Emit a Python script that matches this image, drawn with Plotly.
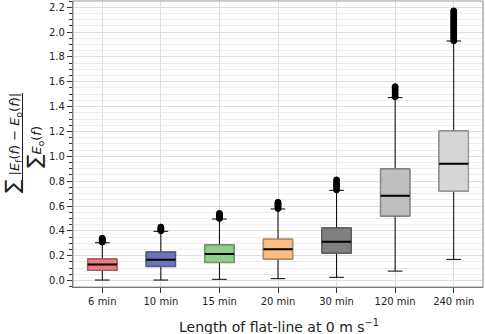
import plotly.graph_objects as go

categories = ["6 min", "10 min", "15 min", "20 min", "30 min", "120 min", "240 min"]
lower_whisker = [0.004, 0.004, 0.010, 0.015, 0.026, 0.076, 0.170]
q1_values = [0.082, 0.114, 0.146, 0.173, 0.221, 0.519, 0.721]
median_values = [0.130, 0.168, 0.213, 0.251, 0.312, 0.683, 0.940]
q3_values = [0.173, 0.229, 0.286, 0.332, 0.423, 0.898, 1.204]
upper_whisker = [0.304, 0.396, 0.495, 0.576, 0.726, 1.472, 1.928]

outliers = {
    "6 min": [0.31, 0.32, 0.33, 0.34],
    "10 min": [0.40, 0.41, 0.42, 0.43],
    "15 min": [0.50, 0.51, 0.52, 0.53, 0.54],
    "20 min": [0.58, 0.59, 0.60, 0.61, 0.62, 0.63],
    "30 min": [0.73, 0.75, 0.77, 0.79, 0.81],
    "120 min": [1.48, 1.50, 1.52, 1.54, 1.56],
    "240 min": [1.93, 1.95, 1.97, 1.99, 2.01, 2.03, 2.05, 2.07, 2.09,
                2.11, 2.13, 2.15, 2.17],
}

fill_colors = ["#f07d7d", "#6d72be", "#91cd8b", "#fcbd82", "#808080", "#bebebe", "#d6d6d6"]
edge_colors = ["#a86060", "#54578a", "#6c966a", "#b48c66", "#606060", "#8a8a8a", "#9a9a9a"]

fig = go.Figure()

# whiskers / caps (black)
fig.add_trace(go.Box(
    x=categories, q1=q1_values, median=median_values, q3=q3_values,
    lowerfence=lower_whisker, upperfence=upper_whisker,
    width=0.5, whiskerwidth=0.5, fillcolor="white",
    line=dict(color="black", width=1), showlegend=False, hoverinfo="skip",
))

# coloured boxes
for i, c in enumerate(categories):
    fig.add_trace(go.Box(
        x=[c], q1=[q1_values[i]], median=[median_values[i]], q3=[q3_values[i]],
        lowerfence=[q1_values[i]], upperfence=[q3_values[i]],
        width=0.5, whiskerwidth=0, fillcolor=fill_colors[i],
        line=dict(color=edge_colors[i], width=1.5), showlegend=False, hoverinfo="skip",
    ))

# median lines
fig.add_trace(go.Box(
    x=categories, q1=median_values, median=median_values, q3=median_values,
    lowerfence=median_values, upperfence=median_values,
    width=0.5, whiskerwidth=0, fillcolor="rgba(0,0,0,0)",
    line=dict(color="black", width=2), showlegend=False, hoverinfo="skip",
))

# outliers
for c in categories:
    vals = outliers[c]
    fig.add_trace(go.Scatter(
        x=[c] * len(vals), y=vals, mode="markers",
        marker=dict(color="black", size=6, line=dict(color="black", width=1)),
        showlegend=False, hoverinfo="skip",
    ))

L, R, T, B = 73, 2, 1, 47
W, H = 485, 334
pw, ph = W - L - R, H - T - B

def px_x(px):
    return (px - L) / pw

def px_y(py):
    return (H - B - py) / ph

fig.update_layout(
    width=W, height=H,
    margin=dict(l=L, r=R, t=T, b=B),
    plot_bgcolor="white", paper_bgcolor="white",
    font=dict(family="DejaVu Sans", size=10, color="#222"),
    boxmode="overlay",
    xaxis=dict(
        type="category", range=[-0.5, 6.5],
        showgrid=True, gridcolor="#dedede", gridwidth=1,
        ticks="outside", ticklen=5, tickwidth=1, tickcolor="#333",
        showline=True, linecolor="#555", linewidth=1.2,
        tickfont=dict(size=10, color="#222"), zeroline=False,
    ),
    yaxis=dict(
        range=[-0.052, 2.25], tickmode="array",
        tickvals=[0.0, 0.2, 0.4, 0.6, 0.8, 1.0, 1.2, 1.4, 1.6, 1.8, 2.0, 2.2],
        ticktext=["0.0", "0.2", "0.4", "0.6", "0.8", "1.0", "1.2", "1.4", "1.6", "1.8", "2.0", "2.2"],
        showgrid=True, gridcolor="#dedede", gridwidth=1,
        ticks="outside", ticklen=5, tickwidth=1, tickcolor="#333",
        showline=True, linecolor="#555", linewidth=1.2,
        tickfont=dict(size=10, color="#222"), zeroline=False,
        minor=dict(dtick=0.05, tick0=0, showgrid=True, gridcolor="#ececec",
                   ticks="outside", ticklen=3, tickcolor="#333"),
    ),
    shapes=[
        dict(type="rect", xref="paper", yref="paper", x0=0, x1=1, y0=0, y1=1,
             line=dict(color="#999", width=1.2), fillcolor="rgba(0,0,0,0)", layer="above"),
        dict(type="line", xref="paper", yref="paper",
             x0=px_x(22.5), x1=px_x(22.5), y0=px_y(93), y1=px_y(193),
             line=dict(color="#222", width=1)),
    ],
    annotations=[
        dict(text="Length of flat-line at 0 m s<sup>−1</sup>", xref="paper", yref="paper",
             x=px_x(279), y=px_y(326), xanchor="center", yanchor="middle",
             showarrow=False, font=dict(size=14, color="#222")),
        dict(text="<span style=\"font-size:20px\">∑</span> |<i>E</i><sub>f</sub>(<i>f</i>) − <i>E</i><sub>o</sub>(<i>f</i>)|",
             xref="paper", yref="paper", x=px_x(12), y=px_y(143),
             xanchor="center", yanchor="middle", textangle=-90,
             showarrow=False, font=dict(size=13, color="#222")),
        dict(text="<span style=\"font-size:20px\">∑</span><i>E</i><sub>o</sub>(<i>f</i>)",
             xref="paper", yref="paper", x=px_x(34), y=px_y(147),
             xanchor="center", yanchor="middle", textangle=-90,
             showarrow=False, font=dict(size=13, color="#222")),
    ],
)

fig.write_html("out.html")
